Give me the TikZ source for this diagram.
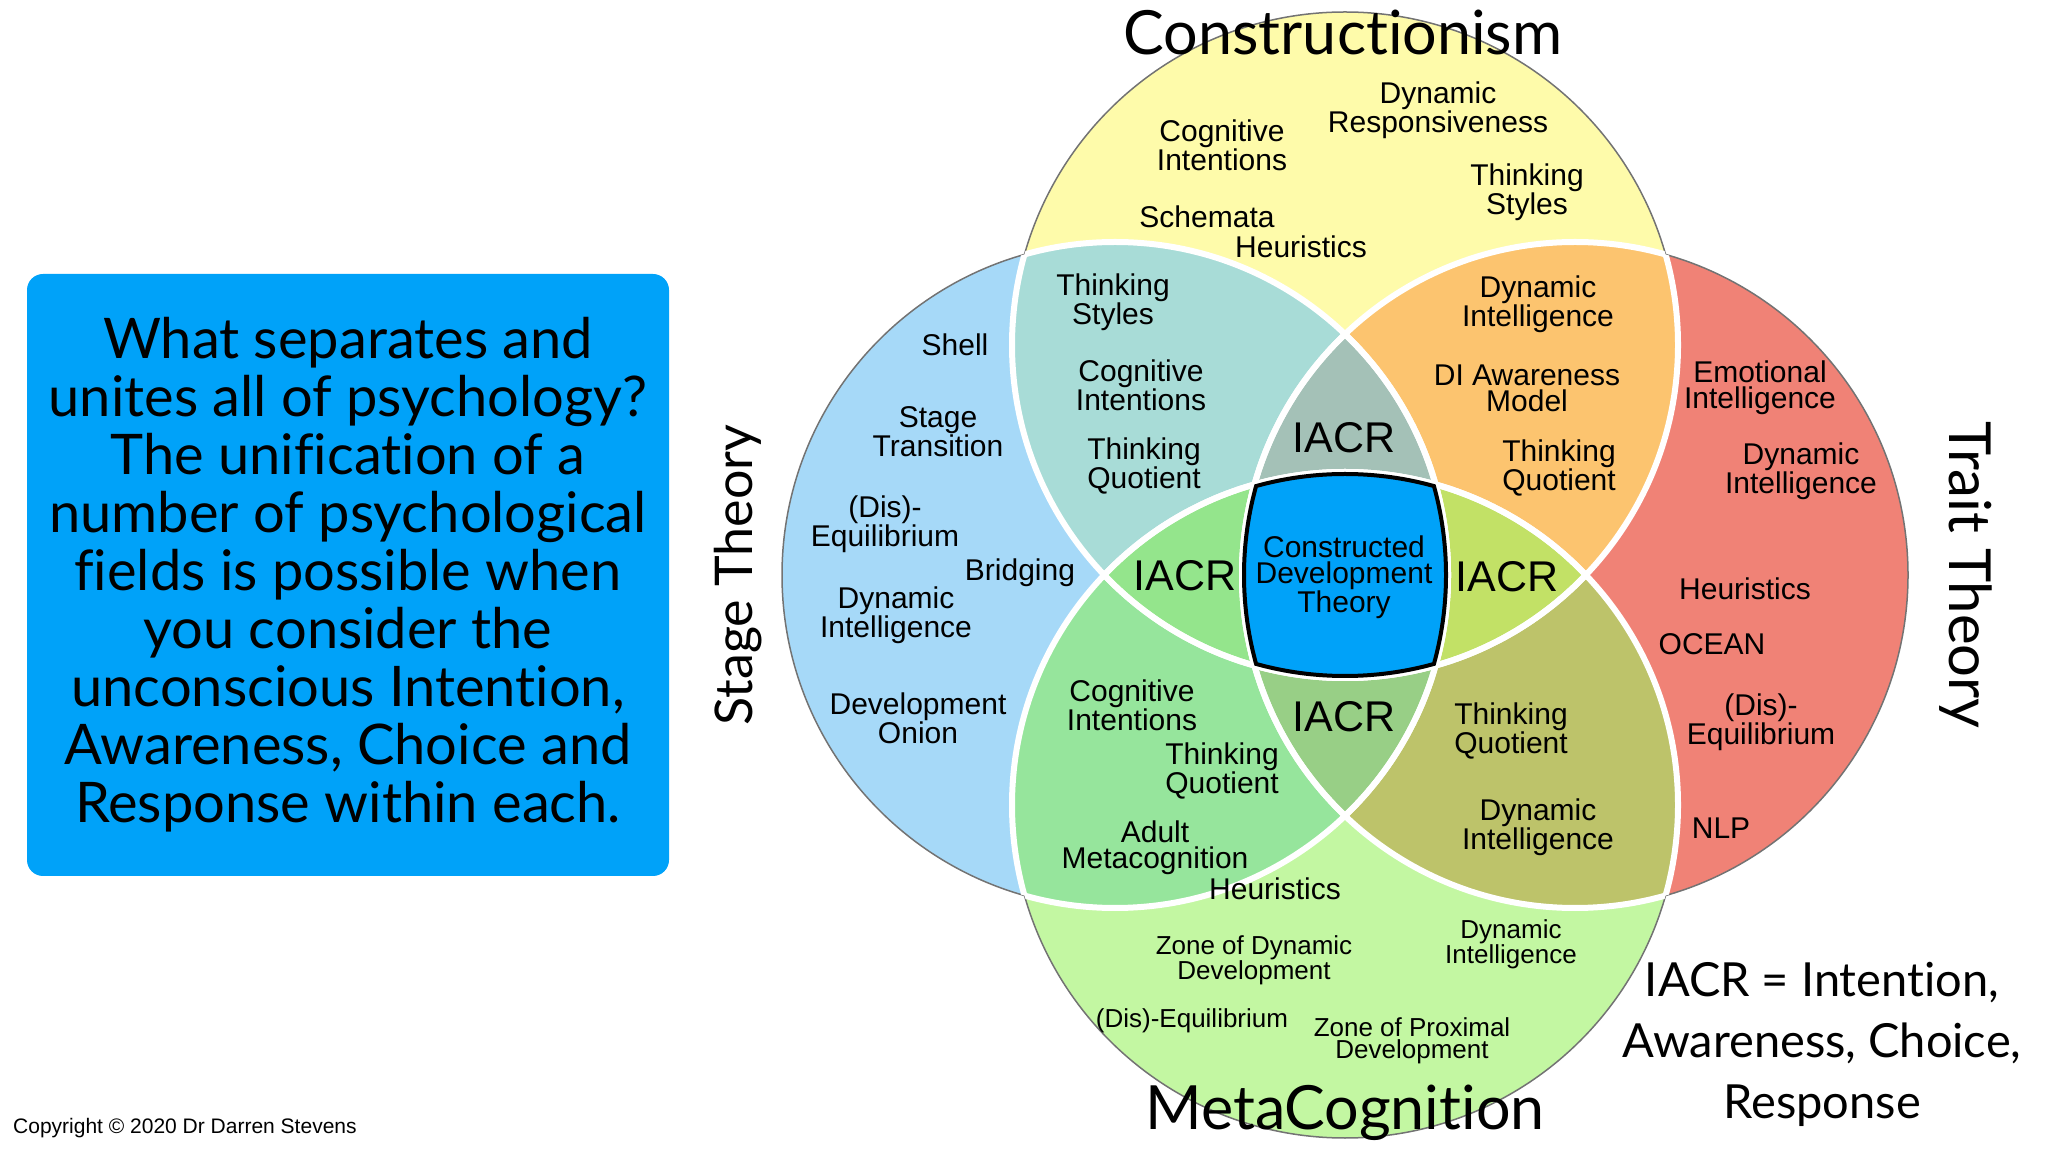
\documentclass[tikz,border=0pt]{standalone}
\usepackage{fontspec}
\setmainfont{Liberation Sans}
\newfontfamily\titlefont[Ligatures=NoCommon]{Lato}

\definecolor{yellowfill}{HTML}{FEFBAA}
\definecolor{bluefill}{HTML}{A6D9F8}
\definecolor{redfill}{HTML}{F08276}
\definecolor{limefill}{HTML}{C3F7A2}
\definecolor{tealfill}{HTML}{A8DCD7}
\definecolor{orangefill}{HTML}{FCC46F}
\definecolor{greenfill}{HTML}{96E59C}
\definecolor{olivefill}{HTML}{BDC36A}
\definecolor{iacrtop}{HTML}{A4C1B7}
\definecolor{iacrleft}{HTML}{94E58C}
\definecolor{iacrright}{HTML}{C2E166}
\definecolor{iacrbottom}{HTML}{98CF86}
\definecolor{cdtblue}{HTML}{00A2F9}

% the four fields
\def\circT{(1345,807) circle[radius=333]}
\def\circB{(1345,347) circle[radius=333]}
\def\circL{(1115,577) circle[radius=333]}
\def\circR{(1575,577) circle[radius=333]}

\begin{document}
\begin{tikzpicture}[
  x=1pt, y=1pt,
  outline/.style={draw=black!55, line width=1.5pt},
  seam/.style={draw=white, line width=6pt},
  lbl/.style={font=\fontsize{30}{26}\selectfont, align=center, inner sep=0pt},
  slbl/.style={font=\fontsize{26}{22}\selectfont, align=center, inner sep=0pt},
  iacr/.style={font=\fontsize{43}{43}\selectfont, inner sep=0pt},
  field/.style={font=\titlefont\fontsize{61}{61}\selectfont, inner sep=0pt},
  sidefield/.style={font=\titlefont\fontsize{52}{52}\selectfont, inner sep=0pt},
  qbox/.style={fill=cdtblue, rounded corners=16pt, align=center,
    minimum width=642pt, minimum height=602pt, inner sep=0pt,
    font=\titlefont\fontsize{56}{58}\selectfont}
]
\useasboundingbox (0,0) rectangle (2048,1152);

% ---------- FILLS ----------
\fill[yellowfill] \circT;
\fill[bluefill]   \circL;
\fill[redfill]    \circR;
\fill[limefill]   \circB;
\begin{scope}
  \clip \circT;
  \fill[tealfill]   \circL;
  \fill[orangefill] \circR;
\end{scope}
\begin{scope}
  \clip \circB;
  \fill[greenfill] \circL;
  \fill[olivefill] \circR;
\end{scope}
\begin{scope}
  \clip \circT; \clip \circL;
  \fill[iacrtop]  \circR;
  \fill[iacrleft] \circB;
\end{scope}
\begin{scope}
  \clip \circB; \clip \circR;
  \fill[iacrright]  \circT;
  \fill[iacrbottom] \circL;
\end{scope}
\begin{scope}
  \clip \circT; \clip \circB; \clip \circL;
  \fill[cdtblue] \circR;
\end{scope}

% ---------- OUTLINES ----------
\path[outline] \circT;
\path[outline] \circB;
\path[outline] \circL;
\path[outline] \circR;
\begin{scope}
  \clip \circT;
  \path[seam] \circB; \path[seam] \circL; \path[seam] \circR;
\end{scope}
\begin{scope}
  \clip \circB;
  \path[seam] \circT; \path[seam] \circL; \path[seam] \circR;
\end{scope}
\begin{scope}
  \clip \circL;
  \path[seam] \circT; \path[seam] \circB; \path[seam] \circR;
\end{scope}
\begin{scope}
  \clip \circR;
  \path[seam] \circT; \path[seam] \circB; \path[seam] \circL;
\end{scope}
% centre border
\begin{scope}
  \clip \circT; \clip \circB; \clip \circL; \clip \circR;
  \draw[line width=8pt] \circT \circB \circL \circR;
\end{scope}

% ---------- FIELD TITLES ----------
\node[field] (constr) at (1343,1119) {Constructionism};
\node[field] (meta)   at (1345,39)   {MetaCognition};
\node[sidefield, rotate=90]  (stage) at (738,577)  {Stage Theory};
\node[sidefield, rotate=-90, font=\titlefont\fontsize{58}{58}\selectfont] (trait) at (1966,577) {Trait Theory};

% ---------- CONSTRUCTIONISM ----------
\node[lbl] (ycog) at (1222,1007) {Cognitive\\Intentions};
\node[lbl] (ydyn) at (1438,1042) {Dynamic\\Responsiveness};
\node[lbl] (ysty) at (1527,960)  {Thinking\\Styles};
\node[lbl] (ysch) at (1207,935)  {Schemata};
\node[lbl] (yheu) at (1301,905)  {Heuristics};

% Constructionism + Stage Theory
\node[lbl] (tsty) at (1113,850) {Thinking\\Styles};
\node[lbl] (tcog) at (1141,767) {Cognitive\\Intentions};
\node[lbl] (tquo) at (1144,686) {Thinking\\Quotient};

% Constructionism + Trait Theory
\node[lbl] (odyn) at (1538,848) {Dynamic\\Intelligence};
\node[lbl] (oawa) at (1527,764) {DI Awareness\\Model};
\node[lbl] (oquo) at (1559,684) {Thinking\\Quotient};

% ---------- STAGE THEORY ----------
\node[lbl] (bshe) at (955,807)  {Shell};
\node[lbl] (bsta) at (938,720)  {Stage\\Transition};
\node[lbl] (bdis) at (885,628)  {(Dis)-\\Equilibrium};
\node[lbl] (bbri) at (1020,579) {Bridging};
\node[lbl] (bdyn) at (896,537)  {Dynamic\\Intelligence};
\node[lbl] (bdev) at (918,434)  {Development\\Onion};

% ---------- TRAIT THEORY ----------
\node[lbl] (remo) at (1760,764) {Emotional\\Intelligence};
\node[lbl] (rdyn) at (1801,681) {Dynamic\\Intelligence};
\node[lbl] (rheu) at (1745,563) {Heuristics};
\node[lbl] (roce) at (1712,508) {OCEAN};
\node[lbl] (rdis) at (1761,430) {(Dis)-\\Equilibrium};
\node[lbl] (rnlp) at (1721,324) {NLP};

% Stage Theory + MetaCognition
\node[lbl] (gcog) at (1132,447) {Cognitive\\Intentions};
\node[lbl] (gquo) at (1222,381) {Thinking\\Quotient};
\node[lbl] (gadu) at (1155,304) {Adult\\Metacognition};
\node[lbl] (gheu) at (1275,263) {Heuristics};

% Trait Theory + MetaCognition
\node[lbl] (vquo) at (1511,421) {Thinking\\Quotient};
\node[lbl] (vdyn) at (1538,325) {Dynamic\\Intelligence};

% ---------- METACOGNITION ----------
\node[slbl] (mzdd) at (1254,192) {Zone of Dynamic\\Development};
\node[slbl] (mdyn) at (1511,208) {Dynamic\\Intelligence};
\node[slbl] (mdis) at (1192,131) {(Dis)-Equilibrium};
\node[slbl] (mzpd) at (1412,111) {Zone of Proximal\\Development};

% ---------- IACR ----------
\node[iacr] (iacrT) at (1344,714) {IACR};
\node[iacr] (iacrL) at (1185,576) {IACR};
\node[iacr] (iacrR) at (1507,575) {IACR};
\node[iacr] (iacrB) at (1344,435) {IACR};
\node[lbl]  (cdt)   at (1344,575) {Constructed\\Development\\Theory};

% ---------- SIDE TEXT ----------
\node[qbox] (question) at (348,577) {What separates and\\unites all of psychology?\\The unification of a\\number of psychological\\fields is possible when\\you consider the\\unconscious Intention,\\Awareness, Choice and\\Response within each.};
\node[align=center, inner sep=0pt, font=\titlefont\fontsize{47}{61}\selectfont] (legend) at (1822,108) {IACR = Intention,\\Awareness, Choice,\\Response};
\node[anchor=west, inner sep=0pt, font=\fontsize{21}{21}\selectfont] (copy) at (13,24) {Copyright \textcopyright{} 2020 Dr Darren Stevens};

\end{tikzpicture}
\end{document}
